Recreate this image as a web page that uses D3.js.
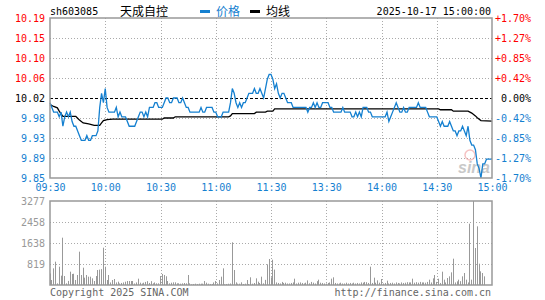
<!DOCTYPE html>
<html>
<head>
<meta charset="utf-8">
<script src="https://cdn.jsdelivr.net/npm/d3@7"></script>
<style>
  body { margin: 0; background: #fff; }
  svg { display: block; }
</style>
</head>
<body>
<div id="chart"></div>
<script>
// --- data ---
const stockCode = "sh603085";
const stockName = "天成自控";
const stamp = "2025-10-17 15:00:00";
const prevClose = 10.02;

const priceTicks = ["10.19", "10.15", "10.10", "10.06", "10.02", "9.98", "9.93", "9.89", "9.85"];
const pctTicks = ["+1.70%", "+1.27%", "+0.85%", "+0.42%", "0.00%", "-0.42%", "-0.85%", "-1.27%", "-1.70%"];
const timeTicks = ["09:30", "10:00", "10:30", "11:00", "11:30", "13:30", "14:00", "14:30", "15:00"];
const volTicks = [819, 1638, 2458, 3277];

// one price per minute, 09:30 .. 15:00 (241 points)
const price = [
  10.01, 10.00, 9.99, 9.99, 9.99, 9.98, 9.99, 9.96, 9.98, 9.99,
  9.98, 9.99, 9.97, 9.96, 9.96, 9.95, 9.94, 9.93, 9.93, 9.93,
  9.94, 9.93, 9.93, 9.94, 9.94, 9.94, 9.95, 10.00, 10.03, 10.01,
  10.04, 10.00, 9.99, 9.99, 9.99, 9.99, 10.00, 9.98, 9.99, 9.98,
  9.98, 9.98, 9.97, 9.96, 9.96, 9.96, 9.96, 9.97, 9.98, 9.99,
  9.99, 9.98, 9.99, 9.98, 10.00, 10.00, 10.00, 10.01, 10.01, 10.00,
  10.00, 10.00, 10.01, 10.02, 10.02, 10.01, 10.01, 10.02, 10.02, 10.02,
  10.01, 10.01, 10.02, 10.01, 10.00, 10.00, 9.99, 9.99, 9.99, 9.99,
  9.99, 9.99, 10.00, 9.99, 9.99, 10.00, 10.00, 10.00, 10.00, 9.99,
  9.99, 9.98, 9.98, 9.98, 9.99, 9.99, 9.99, 9.99, 10.01, 10.04,
  10.03, 10.01, 10.00, 10.01, 10.00, 10.01, 10.01, 10.02, 10.03, 10.03,
  10.03, 10.04, 10.03, 10.03, 10.04, 10.03, 10.02, 10.04, 10.06, 10.07,
  10.07, 10.06, 10.04, 10.05, 10.03, 10.02, 10.03, 10.03, 10.02, 10.01,
  10.01, 10.01, 10.00, 10.00, 10.00, 10.00, 10.00, 10.00, 10.00, 10.00,
  9.99, 10.00, 10.00, 10.01, 10.00, 10.01, 10.00, 10.00, 10.01, 10.01,
  10.01, 10.01, 10.00, 10.00, 9.99, 9.99, 9.99, 9.99, 9.99, 10.00,
  9.99, 9.99, 9.99, 9.99, 9.98, 9.98, 9.99, 9.98, 9.99, 9.98,
  10.00, 10.00, 10.00, 9.99, 9.99, 9.98, 9.98, 9.98, 9.98, 9.98,
  9.98, 9.98, 9.98, 9.99, 9.97, 9.98, 9.99, 10.00, 10.01, 10.00,
  9.99, 9.99, 10.00, 9.99, 9.99, 10.00, 10.00, 10.00, 10.00, 10.00,
  10.01, 10.00, 10.00, 10.00, 10.00, 9.99, 9.98, 9.98, 9.98, 9.98,
  9.98, 9.97, 9.96, 9.97, 9.96, 9.96, 9.96, 9.97, 9.96, 9.95,
  9.95, 9.94, 9.95, 9.95, 9.96, 9.95, 9.94, 9.96, 9.93, 9.92,
  9.92, 9.91, 9.88, 9.87, 9.85, 9.88, 9.88, 9.89, 9.89, 9.89, 9.89
];

// average line, breakpoints (minute, price)
const avgMin = [0, 2, 4, 5, 7, 14, 15, 16, 18, 21, 24, 27, 28, 29, 31, 34, 61, 62, 67, 68,
  97, 98, 99, 111, 112, 117, 118, 121, 122, 211, 212, 218, 219, 227, 228, 229, 231, 232, 234, 240];
const avgVal = [10.006, 10.002, 9.999, 9.992, 9.981, 9.981, 9.977, 9.973, 9.967, 9.965,
  9.962, 9.962, 9.967, 9.972, 9.974, 9.975, 9.975, 9.9775, 9.9775, 9.98,
  9.98, 9.982, 9.987, 9.987, 9.99, 9.99, 9.992, 9.992, 9.997, 9.997,
  9.995, 9.995, 9.992, 9.992, 9.99, 9.988, 9.982, 9.978, 9.972, 9.971];

// volume per minute (lots)
const volume = [
  450, 195, 650, 910, 65, 715, 364, 1846, 350, 65,
  160, 520, 430, 440, 195, 390, 1300, 390, 676, 286,
  390, 325, 325, 260, 156, 350, 585, 600, 620, 1456,
  715, 195, 390, 100, 195, 234, 100, 130, 60, 80,
  100, 130, 155, 155, 155, 155, 60, 100, 247, 90,
  60, 90, 120, 150, 80, 150, 65, 100, 65, 65,
  350, 430, 390, 340, 156, 65, 90, 104, 104, 65,
  65, 52, 65, 78, 65, 390, 65, 26, 40, 52,
  40, 52, 52, 52, 156, 91, 52, 40, 39, 100,
  156, 65, 195, 325, 650, 26, 40, 50, 60, 1665,
  585, 104, 52, 52, 104, 39, 52, 195, 39, 300,
  52, 78, 260, 130, 78, 325, 65, 200, 806, 1014,
  300, 988, 600, 100, 80, 60, 120, 80, 90, 60,
  60, 80, 100, 247, 60, 90, 100, 80, 60, 90,
  180, 65, 120, 90, 60, 150, 208, 90, 80, 60,
  60, 80, 100, 247, 300, 80, 60, 60, 90, 60,
  60, 90, 60, 80, 60, 90, 60, 80, 60, 100,
  90, 120, 110, 80, 715, 80, 286, 90, 182, 90,
  234, 60, 80, 169, 60, 80, 90, 60, 100, 80,
  60, 100, 80, 90, 110, 100, 100, 247, 90, 110,
  90, 120, 100, 100, 90, 120, 208, 100, 260, 390,
  120, 247, 80, 520, 208, 100, 273, 338, 494, 1027,
  100, 143, 208, 150, 338, 468, 208, 100, 2392, 208,
  3277, 1443, 2288, 832, 533, 468, 338, 0, 0, 0, 0
];

// --- layout ---
const chartW = 545, chartH = 300;
const pLeft = 50, pRight = 492, pTop = 18, pBottom = 178;
const vTop = 201, vBottom = 285;
const mono = "'DejaVu Sans Mono', 'Liberation Mono', monospace";
const cjk = "'Noto Sans CJK SC', sans-serif";
const red = "#ff0000", blue = "#1580d0", gray = "#999";

const svg = d3.select("#chart").append("svg")
  .attr("width", chartW)
  .attr("height", chartH);

const x = d3.scaleLinear().domain([0, 240]).range([pLeft, pRight]);
const y = d3.scaleLinear().domain([prevClose - 0.17, prevClose + 0.17]).range([pBottom, pTop]);
const yv = d3.scaleLinear().domain([0, 3277]).range([vBottom, vTop]);

const rowVals = d3.range(9).map(i => prevClose + 0.17 - i * 0.17 / 4);
const gridMins = d3.range(30, 240, 30);

// grid, price panel
svg.append("g").selectAll("line")
  .data(rowVals.slice(1, 8))
  .join("line")
  .attr("x1", pLeft).attr("x2", pRight)
  .attr("y1", d => Math.round(y(d)) + 0.5)
  .attr("y2", d => Math.round(y(d)) + 0.5)
  .attr("stroke", (d, i) => i === 3 ? "#000" : "#aaa")
  .attr("stroke-dasharray", (d, i) => i === 3 ? "3,2" : "1,2")
  .attr("stroke-width", 1);

svg.append("g").selectAll("line")
  .data(gridMins)
  .join("line")
  .attr("x1", d => Math.round(x(d)) + 0.5)
  .attr("x2", d => Math.round(x(d)) + 0.5)
  .attr("y1", pTop).attr("y2", pBottom)
  .attr("stroke", "#aaa")
  .attr("stroke-dasharray", "1,2");

// grid, volume panel
svg.append("g").selectAll("line")
  .data(volTicks.slice(0, 3))
  .join("line")
  .attr("x1", pLeft).attr("x2", pRight)
  .attr("y1", d => Math.round(yv(d)) + 0.5)
  .attr("y2", d => Math.round(yv(d)) + 0.5)
  .attr("stroke", "#aaa")
  .attr("stroke-dasharray", "1,2");

svg.append("g").selectAll("line")
  .data(gridMins)
  .join("line")
  .attr("x1", d => Math.round(x(d)) + 0.5)
  .attr("x2", d => Math.round(x(d)) + 0.5)
  .attr("y1", vTop).attr("y2", vBottom)
  .attr("stroke", "#aaa")
  .attr("stroke-dasharray", "1,2");

// sina watermark
svg.append("circle")
  .attr("cx", 470).attr("cy", 155).attr("r", 5)
  .attr("fill", "none").attr("stroke", "#e99").attr("stroke-width", 1.5)
  .attr("opacity", 0.6);
svg.append("text")
  .attr("x", 474).attr("y", 173)
  .attr("text-anchor", "middle")
  .style("font-family", "'Liberation Sans', sans-serif")
  .style("font-size", "16px")
  .style("font-weight", "bold")
  .style("font-style", "italic")
  .attr("fill", "#bbb")
  .attr("opacity", 0.8)
  .text("sina");

// volume bars
svg.append("g").selectAll("rect")
  .data(volume)
  .join("rect")
  .attr("x", (d, i) => Math.floor(x(i)))
  .attr("y", d => yv(d))
  .attr("width", 1)
  .attr("height", d => vBottom - yv(d))
  .attr("fill", gray);

// average line
const avgPts = avgMin.map((m, i) => [m, avgVal[i]]);
svg.append("path")
  .datum(avgPts)
  .attr("d", d3.line().x(d => x(d[0])).y(d => y(d[1])))
  .attr("fill", "none")
  .attr("stroke", "#000")
  .attr("stroke-width", 1.3);

// price line
svg.append("path")
  .datum(price)
  .attr("d", d3.line().x((d, i) => x(i)).y(d => y(d)))
  .attr("fill", "none")
  .attr("stroke", blue)
  .attr("stroke-width", 1.3);

// frames
[[pTop, pBottom], [vTop, vBottom]].forEach(([t, b]) => {
  svg.append("rect")
    .attr("x", pLeft).attr("y", t)
    .attr("width", pRight - pLeft).attr("height", b - t)
    .attr("fill", "none")
    .attr("stroke", gray)
    .attr("stroke-width", 1.5);
});

function styleAxis(g) {
  g.select(".domain").remove();
  g.attr("font-family", mono).attr("font-size", 10);
}

const rowColor = i => i < 4 ? red : i === 4 ? "#000" : blue;

// left price labels
svg.append("g")
  .attr("transform", `translate(${pLeft},0)`)
  .call(d3.axisLeft(y).tickValues(rowVals).tickFormat((d, i) => priceTicks[i]).tickSize(0).tickPadding(5))
  .call(styleAxis)
  .selectAll("text")
  .attr("fill", (d, i) => rowColor(i));

// right percent labels
svg.append("g")
  .attr("transform", `translate(${pRight},0)`)
  .call(d3.axisRight(y).tickValues(rowVals).tickFormat((d, i) => pctTicks[i]).tickSize(0))
  .call(styleAxis)
  .selectAll("text")
  .attr("x", 39)
  .attr("text-anchor", "end")
  .attr("fill", (d, i) => rowColor(i));

// time labels
svg.append("g")
  .attr("transform", `translate(0,${pBottom})`)
  .call(d3.axisBottom(x).tickValues(d3.range(0, 241, 30)).tickFormat((d, i) => timeTicks[i]).tickSize(0).tickPadding(6))
  .call(styleAxis)
  .selectAll("text")
  .attr("fill", blue);

// volume labels
svg.append("g")
  .attr("transform", `translate(${pLeft},0)`)
  .call(d3.axisLeft(yv).tickValues(volTicks).tickFormat(d3.format("d")).tickSize(0).tickPadding(5))
  .call(styleAxis)
  .selectAll("text")
  .attr("fill", gray);

// header
const header = svg.append("g").attr("fill", "#000");
header.append("text")
  .attr("x", pLeft).attr("y", 15)
  .style("font-family", mono).style("font-size", "10px")
  .text(stockCode);
header.append("text")
  .attr("x", 120).attr("y", 16)
  .style("font-family", cjk).style("font-size", "12px")
  .text(stockName);

const legend = [
  { label: "价格", color: blue, x: 200 },
  { label: "均线", color: "#000", x: 250 }
];
legend.forEach(l => {
  header.append("rect")
    .attr("x", l.x).attr("y", 10).attr("width", 10).attr("height", 3)
    .attr("fill", l.color);
  header.append("text")
    .attr("x", l.x + 16).attr("y", 16)
    .attr("fill", l.color)
    .style("font-family", cjk).style("font-size", "12px")
    .text(l.label);
});

header.append("text")
  .attr("x", pRight - 1).attr("y", 15)
  .attr("text-anchor", "end")
  .style("font-family", mono).style("font-size", "10px")
  .text(stamp);

// footer
svg.append("text")
  .attr("x", pLeft).attr("y", 296)
  .attr("fill", "#666")
  .style("font-family", mono).style("font-size", "10px")
  .text("Copyright 2025 SINA.COM");
svg.append("text")
  .attr("x", pRight - 1).attr("y", 296)
  .attr("text-anchor", "end")
  .attr("fill", "#666")
  .style("font-family", mono).style("font-size", "10px")
  .text("http://finance.sina.com.cn");
</script>
</body>
</html>
